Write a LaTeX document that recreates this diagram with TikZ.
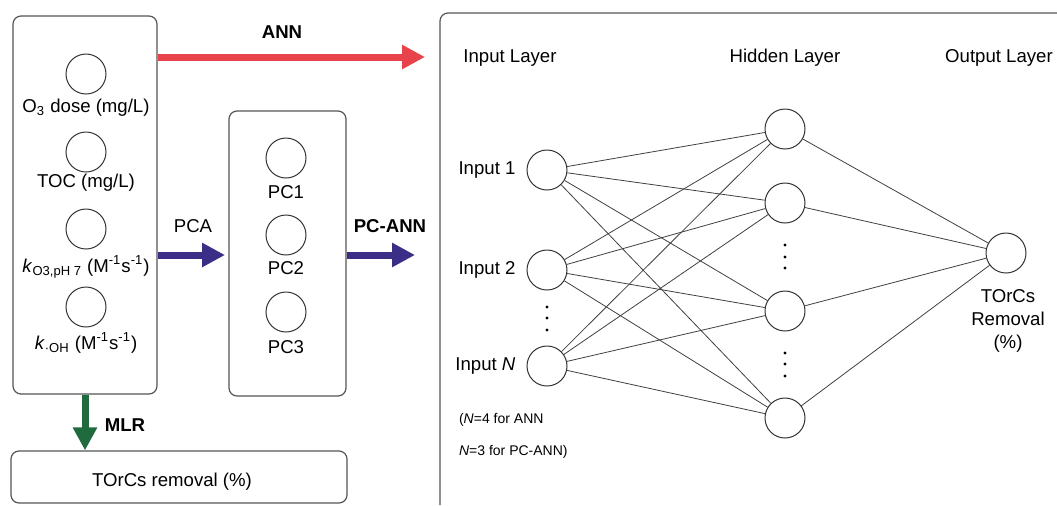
\documentclass[tikz,border=0pt]{standalone}
\usepackage{fontspec}
\setmainfont{Liberation Sans}
\usetikzlibrary{arrows.meta,positioning}
\definecolor{annred}{HTML}{E8434A}
\definecolor{pcablue}{HTML}{3B2E87}
\definecolor{mlrgreen}{HTML}{1F6B3D}
\definecolor{framegray}{HTML}{555555}

\begin{document}
\begin{tikzpicture}[x=0.5pt, y=-0.5pt,
    every node/.style={font=\fontsize{9.3}{11}\selectfont},
    frame/.style={draw=framegray, line width=0.6pt, rounded corners=4pt},
    unit/.style={circle, draw=black!80, line width=0.5pt, minimum size=20pt, inner sep=0pt},
    dot/.style={circle, fill=black, minimum size=1.6pt, inner sep=0pt},
    bigarrow/.style={line width=3.5pt, -{Triangle[width=11.5pt,length=11.5pt]}},
    link/.style={draw=black!75, line width=0.4pt}]
    \useasboundingbox (0,0) rectangle (1057,505);

    % boxes
    \node[frame, minimum width=72pt, minimum height=189pt] (inbox) at (85,205) {};
    \node[frame, minimum width=58.5pt, minimum height=142.5pt] (pcbox) at (287.5,253.5) {};
    \node[frame, minimum width=168pt, minimum height=26pt] (outbox) at (179,477) {};
    \node (outboxl) at (172,482) {TOrCs removal (\%)};
    \draw[framegray, line width=0.6pt, rounded corners=4pt] (440,505) -- (440,13) -- (1057,13);

    % input variables
    \node[unit] (var1) at (86,74) {};
    \node (var1l) at (86,108) {O\textsubscript{3} dose (mg/L)};
    \node[unit] (var2) at (86,152) {};
    \node (var2l) at (86,183) {TOC (mg/L)};
    \node[unit] (var3) at (86,229) {};
    \node (var3l) at (86,267) {\textit{k}\textsubscript{O3,pH 7} (M\textsuperscript{-1}s\textsuperscript{-1})};
    \node[unit] (var4) at (86,307) {};
    \node (var4l) at (86,343) {\textit{k}\textsubscript{·OH} (M\textsuperscript{-1}s\textsuperscript{-1})};

    % principal components
    \foreach \n/\y in {1/158,2/235,3/312}{
      \node[unit] (pc\n) at (286,\y) {};
    }
    \node (pc1l) at (286,192) {PC1};
    \node (pc2l) at (286,268) {PC2};
    \node (pc3l) at (286,347) {PC3};

    % arrows
    \coordinate (annend) at (425,57);
    \coordinate (pcaend) at (225,255);
    \coordinate (pcannend) at (415,255);
    \draw[bigarrow, annred] (inbox.east |- annend) -- (annend);
    \draw[bigarrow, pcablue] (inbox.east |- pcaend) -- (pcaend);
    \draw[bigarrow, pcablue] (pcbox.east |- pcannend) -- (pcannend);
    \draw[bigarrow, mlrgreen] (inbox.south) -- (inbox.south |- outbox.north);
    \node (annlab) at (282,32) {\bfseries ANN};
    \node (pcalab) at (193,226) {PCA};
    \node (pcannlab) at (390,226) {\bfseries PC-ANN};
    \node (mlrlab) at (125,425) {\bfseries MLR};

    % network
    \node (inlayer) at (510,58) {Input Layer};
    \node (hidlayer) at (785,58) {Hidden Layer};
    \node (outlayer) at (999,58) {Output Layer};
    \node[unit] (in1) at (547,170) {};
    \node[unit] (in2) at (547,270) {};
    \node[unit] (inN) at (547,366) {};
    \node[left=2pt of in1] (in1l) {Input 1};
    \node[left=2pt of in2] (in2l) {Input 2};
    \node[left=2pt of inN] (inNl) {Input \textit{N}};
    \foreach \n/\y in {1/129,2/203,3/311,4/418}{
      \node[unit] (hid\n) at (785,\y) {};
    }
    \node[unit] (out) at (1006,253) {};
    \foreach \a in {in1,in2,inN}{
      \foreach \b in {1,...,4}{
        \draw[link] (\a) -- (hid\b);
      }
    }
    \foreach \b in {1,...,4}{
      \draw[link] (hid\b) -- (out);
    }
    \foreach \y in {307,318,330}{
      \node[dot] at (547,\y) {};
    }
    \foreach \y in {245,257,268,353,364,376}{
      \node[dot] at (785,\y) {};
    }
    \node[align=center, font=\fontsize{9.3}{11.5}\selectfont] (outl) at (1008,321) {TOrCs\\Removal\\(\%)};
    \node[anchor=west, align=left, font=\fontsize{7}{16}\selectfont] (note) at (452,436) {(\textit{N}=4 for ANN\\\textit{N}=3 for PC-ANN)};
  \end{tikzpicture}
\end{document}
